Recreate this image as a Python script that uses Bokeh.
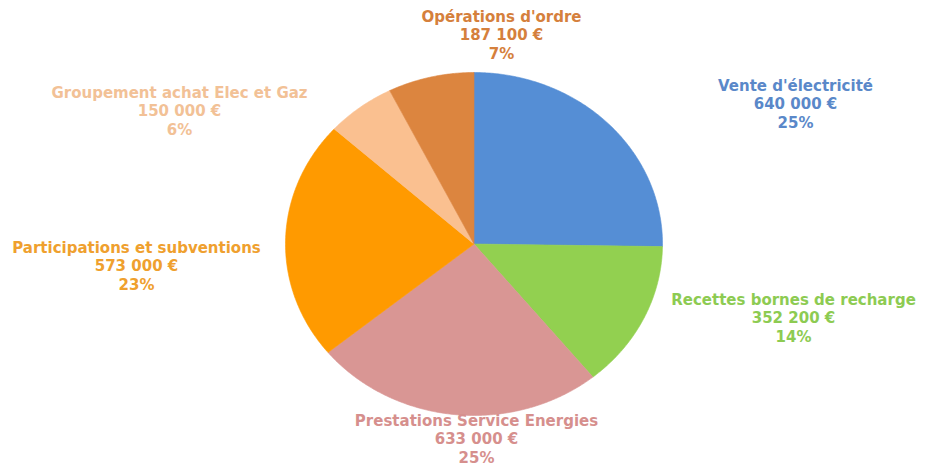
import numpy as np
from bokeh.plotting import figure
from bokeh.models import Range1d, ColumnDataSource
from bokeh.core.properties import value
from bokeh.embed import file_html
from bokeh.resources import INLINE

# ---- data ----
categories = ["Vente d'électricité", "Recettes bornes de recharge", "Prestations Service Energies",
              "Participations et subventions", "Groupement achat Elec et Gaz", "Opérations d'ordre"]
amounts = [640000, 352200, 633000, 573000, 150000, 187100]

# ---- styles ----
slice_colors = ["#558ED5", "#92D050", "#D99694", "#FF9A00", "#FAC090", "#DC853F"]
label_colors = ["#5A88C9", "#8DCB52", "#D68F8D", "#EFA02E", "#F2C196", "#D5803C"]
# label anchor (x centre, y of first line) in picture pixels
label_pos = [(795, 85), (793, 299), (476, 420), (136, 247), (179, 92), (501, 16)]
line_gap = 18.5

cx, cy, rx, ry = 473.5, 243.5, 188.5, 171.5

W, H = 920, 467
p = figure(width=W, height=H, output_backend="svg", toolbar_location=None,
           x_range=Range1d(0, W), y_range=Range1d(H, 0), min_border=0)
p.axis.visible = False
p.grid.visible = False
p.outline_line_color = None
p.background_fill_color = "white"
p.border_fill_color = "white"

vals = np.array(amounts, dtype=float)
total = vals.sum()
frac = vals / total
ends = np.cumsum(frac) * 2 * np.pi
starts = np.concatenate([[0.0], ends[:-1]])

xs, ys = [], []
for a0, a1 in zip(starts, ends):
    t = np.linspace(a0, a1, max(int((a1 - a0) * 120), 8))
    xs.append(list(np.concatenate([[cx], cx + rx * np.sin(t)])))
    ys.append(list(np.concatenate([[cy], cy - ry * np.cos(t)])))

p.patches(xs, ys, fill_color=slice_colors, line_color=slice_colors, line_width=0.6)

tx, ty, tt, tc = [], [], [], []
for name, v, f, (lx, ly), col in zip(categories, amounts, frac, label_pos, label_colors):
    lines = [name, f"{v:,}".replace(",", " ") + " €", f"{round(f * 100):d}%"]
    for i, s in enumerate(lines):
        tx.append(lx)
        ty.append(ly + i * line_gap)
        tt.append(s)
        tc.append(col)

src = ColumnDataSource(dict(x=tx, y=ty, text=tt, color=tc))
p.text(x="x", y="y", text="text", source=src, text_color="color",
       text_align="center", text_baseline="middle",
       text_font=value("DejaVu Sans"), text_font_style="bold", text_font_size="15px")

open("out.html", "w").write(file_html(p, INLINE))
